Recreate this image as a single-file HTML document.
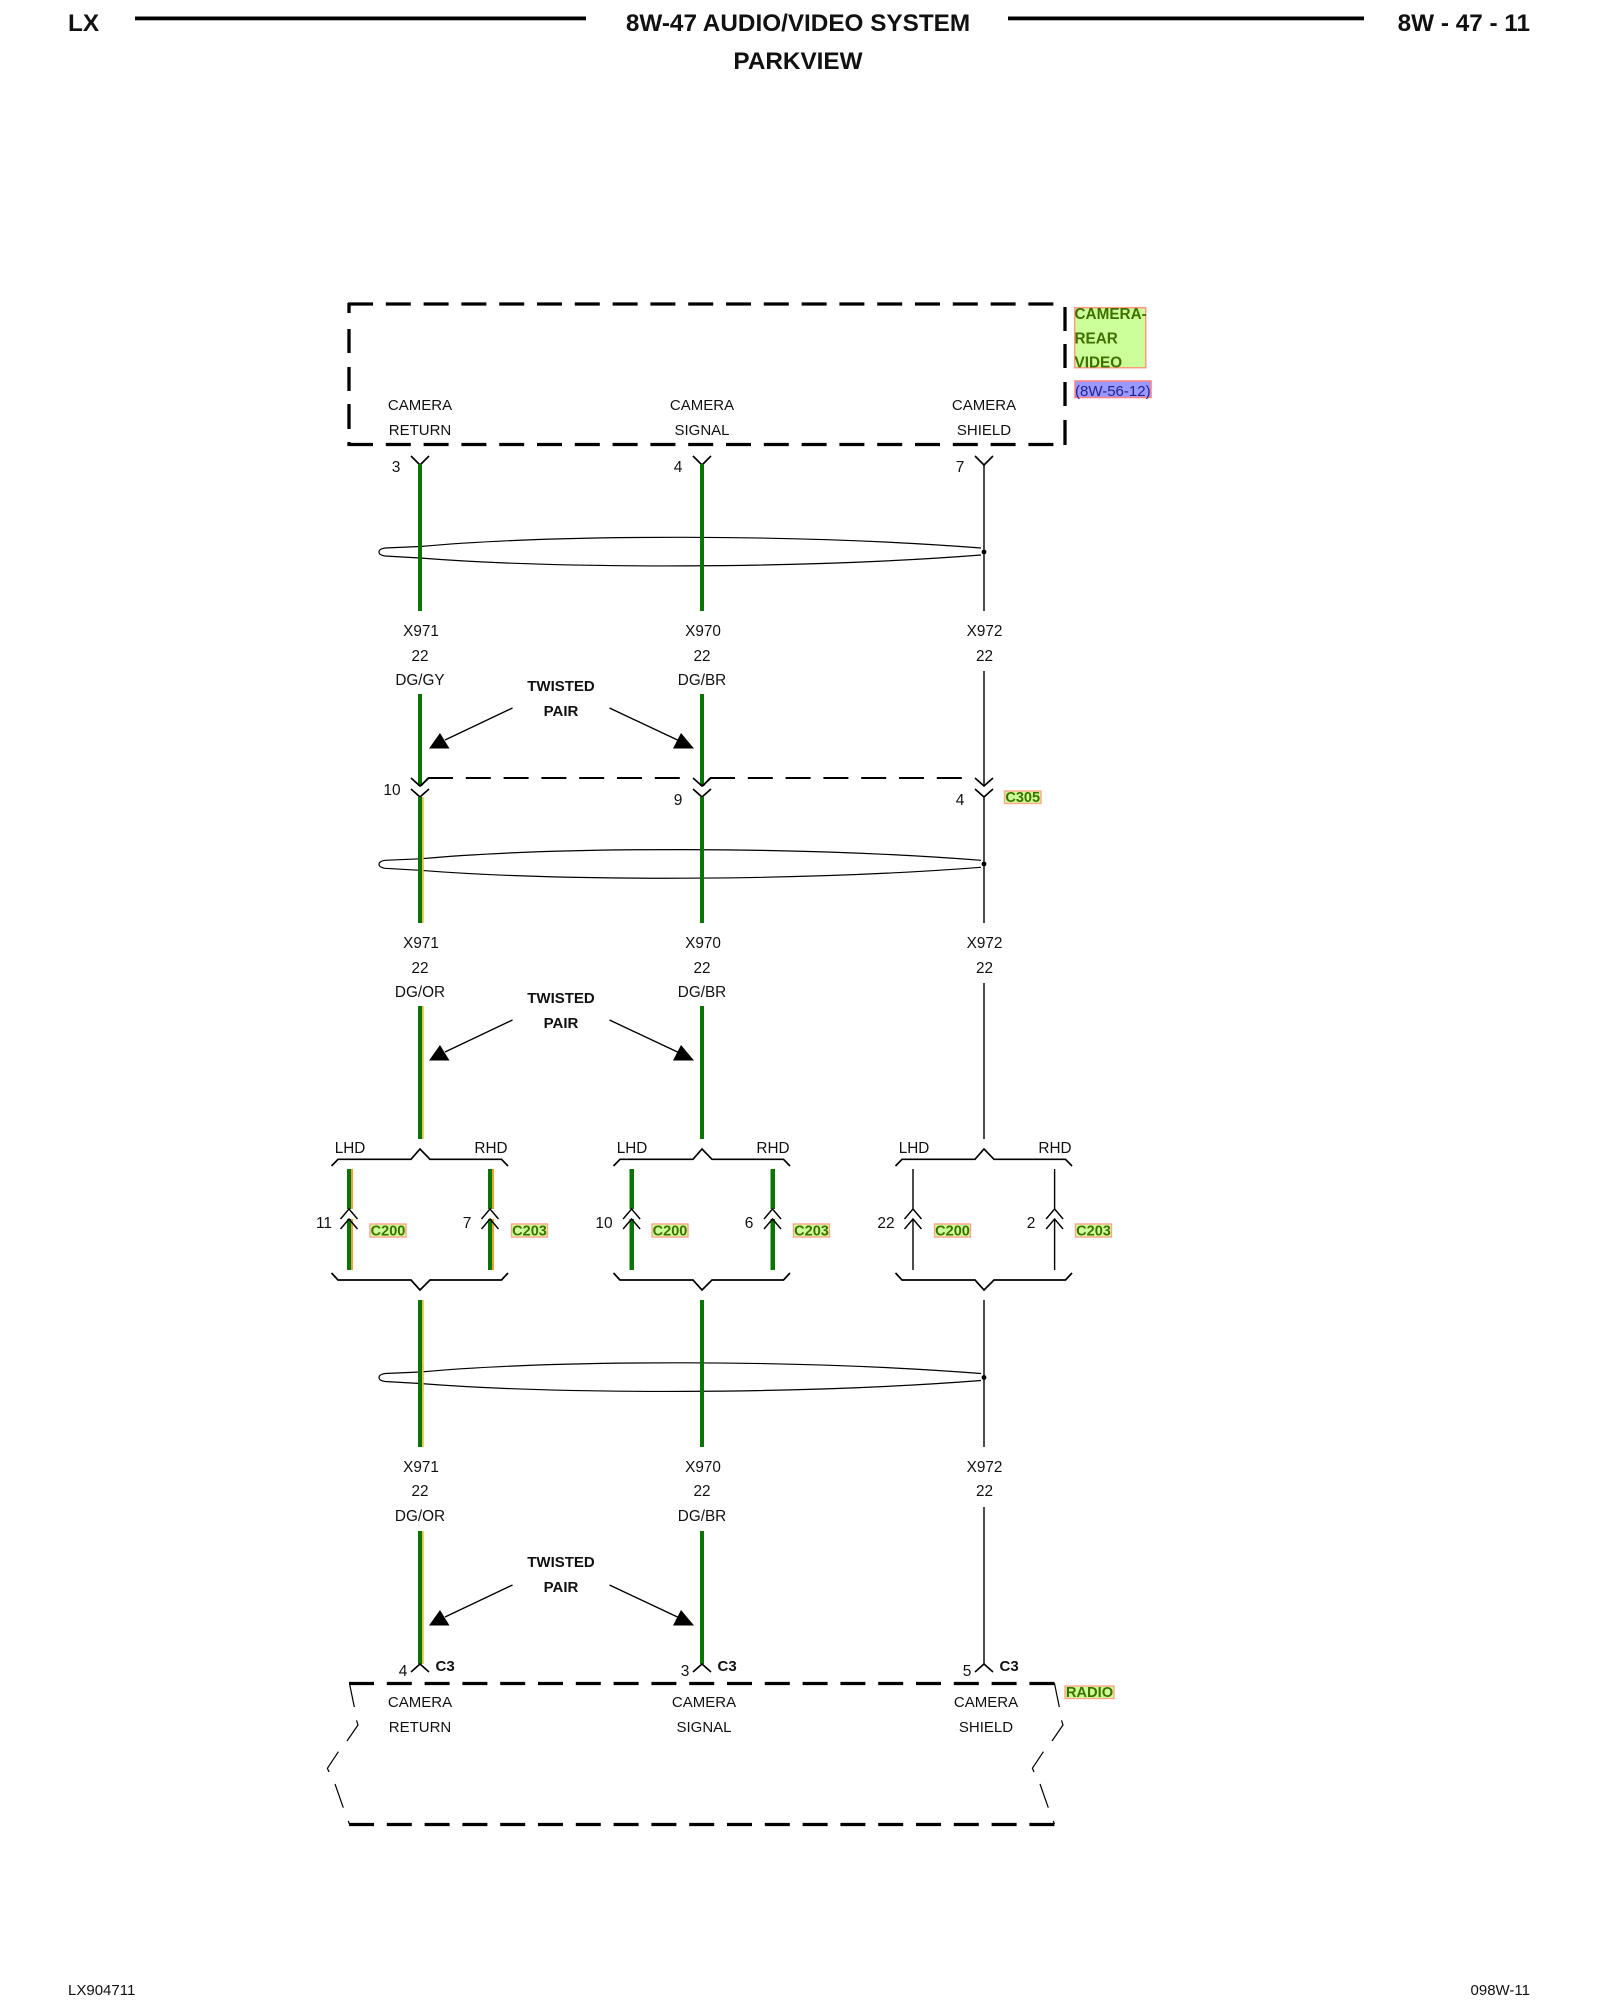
<!DOCTYPE html>
<html><head><meta charset="utf-8"><title>8W-47 Audio/Video System Parkview</title>
<style>
html,body{margin:0;padding:0;background:#fff}
svg{display:block}
text{font-family:"Liberation Sans",sans-serif;fill:#111}
.t{font-size:15px;text-anchor:middle}
.n{font-size:15.5px;text-anchor:middle}
.s{font-size:15.3px;text-anchor:middle}
.b{font-size:15px;font-weight:bold;text-anchor:middle}
.h{font-size:24.3px;font-weight:bold}
.c{font-size:14.5px;font-weight:bold;fill:#3f6f00;text-anchor:middle}
.g{fill:#0b7504}.y{fill:#e8bd45}
.k{stroke:#000;fill:none;stroke-width:1.4}
.tw{stroke:#000;fill:none;stroke-width:1.2}
.box{stroke:#000;fill:none;stroke-width:3.3;stroke-dasharray:25 12.8}
</style></head><body>
<svg width="1600" height="2000" viewBox="0 0 1600 2000" xmlns="http://www.w3.org/2000/svg">
<defs>
<path id="tw" class="tw" d="M981 548 C800 534 560 534 420 546.5 L385 548 Q379 549 379 552 Q379 555 385 556 L420 558 C560 569 800 569 981 555"/>
<path id="ud" class="k" style="stroke-width:1.7" d="M-9 0 L0 8 L9 0"/>
<path id="up" class="k" d="M-8.5 10 L0 0 L8.5 10"/>
<g id="arr">
<path class="k" d="M512.5 708 L445 740 M609.5 708 L677.5 740"/>
<path d="M440 733 L429 748.5 L449.5 748.5 Z M681 733 L673 748.5 L694 748.5 Z" fill="#000"/>
</g>
<g id="bu"><path class="k" style="stroke-width:1.7" d="M-88.5 1166 L-82 1159.3 L-9 1159.3 L0 1149 L10 1159.3 L81.5 1159.3 L88 1166"/></g>
<g id="bd"><path class="k" style="stroke-width:1.7" d="M-88.5 1273 L-82 1280 L-9 1280 L0 1290 L10 1280 L81.5 1280 L88 1273"/></g>
<path id="frag" class="k" style="stroke-width:1.2" d="M349.4 1683 L354.3 1707 M356.5 1720.3 L358 1725 L347 1741 M338.4 1751.7 L327.4 1768.3 L329 1772 M335 1784 L343.3 1807.7 M348.3 1821 L349.4 1824"/>
</defs>

<!-- header -->
<text x="68" y="31" class="h">LX</text>
<rect x="135" y="16.5" width="451" height="3.8" fill="#000"/>
<rect x="1008" y="16.5" width="356" height="3.8" fill="#000"/>
<text x="798" y="31" class="h" text-anchor="middle">8W-47 AUDIO/VIDEO SYSTEM</text>
<text x="798" y="69" class="h" text-anchor="middle">PARKVIEW</text>
<text x="1530" y="31" class="h" text-anchor="end">8W - 47 - 11</text>

<!-- top box -->
<line class="box" x1="348" y1="304" x2="1055" y2="304"/>
<line class="box" x1="348" y1="444.5" x2="1065" y2="444.5"/>
<path d="M349 303 V313 M349 329 V353 M349 367 V391 M349 404 V429 M349 442 V446" stroke="#000" stroke-width="3.3" fill="none"/>
<path d="M1065 307 V331 M1065 344 V368 M1065 382 V406 M1065 420 V445" stroke="#000" stroke-width="3.3" fill="none"/>
<text class="t" x="420" y="410">CAMERA</text><text class="t" x="420" y="435">RETURN</text>
<text class="t" x="702" y="410">CAMERA</text><text class="t" x="702" y="435">SIGNAL</text>
<text class="t" x="984" y="410">CAMERA</text><text class="t" x="984" y="435">SHIELD</text>

<rect x="1074.7" y="307.7" width="71" height="60" fill="#ccff99" stroke="#ff9980" stroke-width="1.5"/>
<text x="1074.5" y="319" style="font-size:15.3px;font-weight:bold;fill:#3f6f00">CAMERA-</text>
<text x="1074.5" y="343.3" style="font-size:15.3px;font-weight:bold;fill:#3f6f00">REAR</text>
<text x="1074.5" y="367.7" style="font-size:15.3px;font-weight:bold;fill:#3f6f00">VIDEO</text>
<rect x="1075" y="381" width="76" height="16.5" fill="#9999ff" stroke="#ff8080" stroke-width="1.5"/>
<text x="1075" y="396" style="font-size:15px;fill:#22228f">(8W-56-12)</text>

<!-- section 1 -->
<text class="n" x="396" y="472">3</text><text class="n" x="678" y="472">4</text><text class="n" x="960" y="472">7</text>
<path class="k" style="stroke-width:1.7" d="M411 456 L420 465 L429 456 M693 456 L702 465 L711 456 M975 456 L984 465 L993 456"/>
<rect class="g" x="418" y="464" width="4" height="147"/>
<rect class="g" x="700" y="464" width="4" height="147"/>
<line class="k" x1="984" y1="464" x2="984" y2="611"/>
<use href="#tw"/>
<circle cx="984" cy="552" r="2.4" fill="#000"/>
<rect class="g" x="418" y="540" width="4" height="30"/><rect class="g" x="700" y="530" width="4" height="40"/>
<text class="s" x="421" y="636">X971</text><text class="s" x="703" y="636">X970</text><text class="s" x="984.5" y="636">X972</text>
<text class="s" x="420" y="661">22</text><text class="s" x="702" y="661">22</text><text class="s" x="984.5" y="661">22</text>
<text class="s" x="420" y="685">DG/GY</text><text class="s" x="702" y="685">DG/BR</text>
<line class="k" x1="984" y1="671" x2="984" y2="786"/>
<rect class="g" x="418" y="694" width="4" height="92"/>
<rect class="g" x="700" y="694" width="4" height="92"/>
<text class="b" x="561" y="691">TWISTED</text><text class="b" x="561" y="716">PAIR</text>
<use href="#arr"/>

<!-- C305 -->
<path class="k" style="stroke-width:1.9;stroke-dasharray:25 12.8" d="M428 778 H681"/>
<path class="k" style="stroke-width:1.9;stroke-dasharray:25 12.8" d="M710 778 H963"/>
<path class="k" style="stroke-width:1.7" d="M421 786 L428 778 M703 786 L710 778"/>
<use href="#ud" x="420" y="778"/><use href="#ud" x="420" y="789"/>
<use href="#ud" x="702" y="778"/><use href="#ud" x="702" y="789"/>
<use href="#ud" x="984" y="778"/><use href="#ud" x="984" y="789"/>
<text class="n" x="392" y="795">10</text><text class="n" x="678" y="805">9</text><text class="n" x="960" y="805">4</text>
<rect x="1004.5" y="791" width="36.5" height="12.5" fill="#ccff99" stroke="#ffa58c" stroke-width="1.4"/>
<text class="c" x="1022.7" y="802">C305</text>

<!-- section 2 -->
<rect class="g" x="418" y="797" width="4" height="126"/><rect class="y" x="422" y="797" width="1.7" height="126"/>
<rect class="g" x="700" y="797" width="4" height="126"/>
<line class="k" x1="984" y1="797" x2="984" y2="923"/>
<use href="#tw" y="312.3"/>
<circle cx="984" cy="864" r="2.4" fill="#000"/>
<rect class="g" x="418" y="850" width="4" height="30"/><rect class="y" x="422" y="850" width="1.7" height="30"/><rect class="g" x="700" y="845" width="4" height="40"/>
<text class="s" x="421" y="948">X971</text><text class="s" x="703" y="948">X970</text><text class="s" x="984.5" y="948">X972</text>
<text class="s" x="420" y="973">22</text><text class="s" x="702" y="973">22</text><text class="s" x="984.5" y="973">22</text>
<text class="s" x="420" y="997">DG/OR</text><text class="s" x="702" y="997">DG/BR</text>
<line class="k" x1="984" y1="983" x2="984" y2="1139"/>
<rect class="g" x="418" y="1006" width="4" height="133"/><rect class="y" x="422" y="1006" width="1.7" height="133"/>
<rect class="g" x="700" y="1006" width="4" height="133"/>
<text class="b" x="561" y="1003">TWISTED</text><text class="b" x="561" y="1028">PAIR</text>
<use href="#arr" y="312"/>

<!-- splice blocks -->
<text class="s" x="350" y="1153">LHD</text><text class="s" x="491" y="1153">RHD</text>
<text class="s" x="632" y="1153">LHD</text><text class="s" x="773" y="1153">RHD</text>
<text class="s" x="914" y="1153">LHD</text><text class="s" x="1055" y="1153">RHD</text>
<use href="#bu" x="420"/><use href="#bu" x="702"/><use href="#bu" x="984"/>
<use href="#bd" x="420"/><use href="#bd" x="702"/><use href="#bd" x="984"/>

<rect class="g" x="347" y="1169" width="4" height="40"/><rect x="351" y="1169" width="2" height="40" fill="#f0a030"/>
<rect class="g" x="347" y="1219" width="4" height="51"/><rect x="351" y="1219" width="2" height="51" fill="#f0a030"/>
<rect class="g" x="488" y="1169" width="4" height="40"/><rect x="492" y="1169" width="2" height="40" fill="#f0a030"/>
<rect class="g" x="488" y="1219" width="4" height="51"/><rect x="492" y="1219" width="2" height="51" fill="#f0a030"/>
<rect class="g" x="629.5" y="1169" width="4.5" height="40"/>
<rect class="g" x="629.5" y="1219" width="4.5" height="51"/>
<rect class="g" x="770.5" y="1169" width="4.5" height="40"/>
<rect class="g" x="770.5" y="1219" width="4.5" height="51"/>
<path class="k" d="M913 1169 V1209 M913 1219 V1270 M1054.6 1169 V1209 M1054.6 1219 V1270"/>
<use href="#up" x="349" y="1209"/><use href="#up" x="349" y="1219"/>
<use href="#up" x="490" y="1209"/><use href="#up" x="490" y="1219"/>
<use href="#up" x="631.6" y="1209"/><use href="#up" x="631.6" y="1219"/>
<use href="#up" x="772.5" y="1209"/><use href="#up" x="772.5" y="1219"/>
<use href="#up" x="913" y="1209"/><use href="#up" x="913" y="1219"/>
<use href="#up" x="1054.6" y="1209"/><use href="#up" x="1054.6" y="1219"/>

<text class="n" x="324" y="1228">11</text><text class="n" x="467" y="1228">7</text>
<text class="n" x="604" y="1228">10</text><text class="n" x="749" y="1228">6</text>
<text class="n" x="886" y="1228">22</text><text class="n" x="1031" y="1228">2</text>

<g>
<rect x="370" y="1224" width="36" height="13" fill="#ccff99" stroke="#ffa58c" stroke-width="1.4"/><text class="c" x="388" y="1235.5">C200</text>
<rect x="511.5" y="1224" width="36" height="13" fill="#ccff99" stroke="#ffa58c" stroke-width="1.4"/><text class="c" x="529.5" y="1235.5">C203</text>
<rect x="652" y="1224" width="36" height="13" fill="#ccff99" stroke="#ffa58c" stroke-width="1.4"/><text class="c" x="670" y="1235.5">C200</text>
<rect x="793.5" y="1224" width="36" height="13" fill="#ccff99" stroke="#ffa58c" stroke-width="1.4"/><text class="c" x="811.5" y="1235.5">C203</text>
<rect x="934.5" y="1224" width="36" height="13" fill="#ccff99" stroke="#ffa58c" stroke-width="1.4"/><text class="c" x="952.5" y="1235.5">C200</text>
<rect x="1075.5" y="1224" width="36" height="13" fill="#ccff99" stroke="#ffa58c" stroke-width="1.4"/><text class="c" x="1093.5" y="1235.5">C203</text>
</g>

<!-- section 3 -->
<rect class="g" x="418" y="1300" width="4" height="147"/><rect class="y" x="422" y="1300" width="1.7" height="147"/>
<rect class="g" x="700" y="1300" width="4" height="147"/>
<line class="k" x1="984" y1="1300" x2="984" y2="1447"/>
<use href="#tw" y="825.5"/>
<circle cx="984" cy="1377.5" r="2.4" fill="#000"/>
<rect class="g" x="418" y="1363" width="4" height="30"/><rect class="y" x="422" y="1363" width="1.7" height="30"/><rect class="g" x="700" y="1358" width="4" height="40"/>
<text class="s" x="421" y="1472">X971</text><text class="s" x="703" y="1472">X970</text><text class="s" x="984.5" y="1472">X972</text>
<text class="s" x="420" y="1496">22</text><text class="s" x="702" y="1496">22</text><text class="s" x="984.5" y="1496">22</text>
<text class="s" x="420" y="1521">DG/OR</text><text class="s" x="702" y="1521">DG/BR</text>
<line class="k" x1="984" y1="1507" x2="984" y2="1664"/>
<rect class="g" x="418" y="1531" width="4" height="133"/><rect class="y" x="422" y="1531" width="1.7" height="133"/>
<rect class="g" x="700" y="1531" width="4" height="133"/>
<text class="b" x="561" y="1567">TWISTED</text><text class="b" x="561" y="1592">PAIR</text>
<use href="#arr" y="877"/>

<!-- bottom connectors -->
<path class="k" style="stroke-width:1.6" d="M411 1672 L420 1664 L429 1672 M693 1672 L702 1664 L711 1672 M975 1672 L984 1664 L993 1672"/>
<text class="n" x="403" y="1676">4</text><text class="n" x="685" y="1676">3</text><text class="n" x="967" y="1676">5</text>
<text x="435.5" y="1671" style="font-size:15px;font-weight:bold">C3</text>
<text x="717.5" y="1671" style="font-size:15px;font-weight:bold">C3</text>
<text x="999.5" y="1671" style="font-size:15px;font-weight:bold">C3</text>

<!-- radio box -->
<line class="box" x1="349" y1="1683.5" x2="1055" y2="1683.5"/>
<line class="box" x1="349" y1="1824.5" x2="1055" y2="1824.5"/>
<use href="#frag"/><use href="#frag" x="705"/>
<text class="t" x="420" y="1707">CAMERA</text><text class="t" x="420" y="1732">RETURN</text>
<text class="t" x="704" y="1707">CAMERA</text><text class="t" x="704" y="1732">SIGNAL</text>
<text class="t" x="986" y="1707">CAMERA</text><text class="t" x="986" y="1732">SHIELD</text>
<rect x="1065" y="1686" width="49" height="12.5" fill="#ccff99" stroke="#ffa58c" stroke-width="1.4"/>
<text class="c" x="1089.5" y="1697" style="font-size:14.7px">RADIO</text>

<!-- footer -->
<text x="68" y="1995" style="font-size:15px">LX904711</text>
<text x="1530" y="1995" text-anchor="end" style="font-size:15px">098W-11</text>
</svg>
</body></html>
